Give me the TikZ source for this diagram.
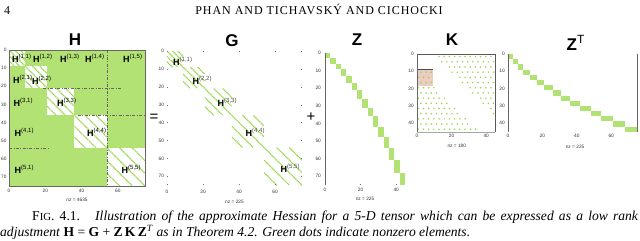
\documentclass[tikz,border=0pt]{standalone}
\usepackage{fontspec}
\setmainfont{Liberation Serif}
\setsansfont{Liberation Sans}
\newfontfamily\headfont[LetterSpace=8]{Liberation Serif}
\definecolor{spyg}{RGB}{178,226,116}
\definecolor{spyd}{RGB}{150,214,72}
\definecolor{pinkk}{RGB}{234,204,194}
\begin{document}
\begin{tikzpicture}[x=1pt,y=-1pt,
  titlef/.style={font=\sffamily\bfseries\fontsize{17}{17}\selectfont,inner sep=0},
  ticklab/.style={font=\sffamily\fontsize{4.8}{5}\selectfont,inner sep=0,text=black!80},
  hlab/.style={font=\sffamily\bfseries\fontsize{9}{9}\selectfont,inner sep=0,anchor=base west},
  glab/.style={hlab},
  stripe/.style={draw=spyd,line width=1.2pt,dash pattern=on 1.1pt off 0.6pt},
  ddline/.style={draw=black!60,line width=0.6pt,dash pattern=on 3pt off 1.5pt on 0.8pt off 1.5pt},
  axline/.style={draw=black!60,line width=0.5pt},
  tickm/.style={draw=black!55,line width=0.4pt},
  opsym/.style={font=\sffamily\fontsize{15}{15}\selectfont,inner sep=0,text height=6pt,text depth=0pt}]
\useasboundingbox (0,0) rectangle (640,241);

% running head
\node[font=\fontsize{12}{14}\selectfont,anchor=base west,inner sep=0] (pnum) at (4,14) {4};
\node[font=\headfont\fontsize{12}{14}\selectfont,anchor=base,inner sep=0] (runhead) at (319,14) {PHAN AND TICHAVSKÝ AND CICHOCKI};

% titles
\node[titlef,anchor=base] (tH) at (75,45) {H};
\node[titlef,anchor=base] (tG) at (232,46.5) {G};
\node[titlef,anchor=base] (tZ) at (357,45) {Z};
\node[titlef,anchor=base] (tK) at (452,45) {K};
\node[titlef,anchor=base west] (tZT) at (566.5,50) {Z\textsuperscript{\mdseries T}};

% operators
\node[opsym,anchor=base] (eq) at (154,121) {=};
\node[opsym,anchor=base] (plus) at (311,121) {+};

% ---------------- H ----------------
\begin{scope}[shift={(9,50)},x=1.8133pt,y=-1.8133pt]
  \fill[spyg] (0,0) rectangle (75,75);
  \foreach \o/\s/\I in {0/9/3,9/12/4,21/15/5,36/18/6,54/21/7}{
    \fill[white] (\o,\o) rectangle ++(\s,\s);
    \begin{scope}
      \clip (\o,\o) rectangle ++(\s,\s);
      \draw[stripe] (\o,\o) -- (\o+\s,\o+\s);
      \draw[stripe] (\o+\I,\o) -- (\o+\s,\o+\s-\I);
      \draw[stripe] (\o+2*\I,\o) -- (\o+\s,\o+\s-2*\I);
      \draw[stripe] (\o,\o+\I) -- (\o+\s-\I,\o+\s);
      \draw[stripe] (\o,\o+2*\I) -- (\o+\s-2*\I,\o+\s);
    \end{scope}
  }
  \draw[axline] (0,0) rectangle (75,75);
  \draw[ddline] (54,0) -- (54,75);
  \draw[ddline] (19,21) -- (62,21);
  \draw[ddline] (38,36) -- (75,36);
  \draw[ddline] (0,54) -- (22.5,54);
  \foreach \v in {0,10,...,70} \node[ticklab,anchor=east] (hy\v) at (-1.3,\v) {\v};
  \foreach \v in {0,20,40,60} \node[ticklab,anchor=north] (hx\v) at (\v,76.6) {\v};
  \node[ticklab] (hnz) at (37.5,82.7) {nz = 4635};
\end{scope}
\node[hlab] (h11) at (12,62) {H\textsuperscript{\mdseries(1,1)}};
\node[hlab] (h12) at (33,62) {H\textsuperscript{\mdseries(1,2)}};
\node[hlab] (h13) at (60,62) {H\textsuperscript{\mdseries(1,3)}};
\node[hlab] (h14) at (85,62) {H\textsuperscript{\mdseries(1,4)}};
\node[hlab] (h15) at (123,62) {H\textsuperscript{\mdseries(1,5)}};
\node[hlab] (h21) at (13,83.5) {H\textsuperscript{\mdseries(2,1)}};
\node[hlab] (h22) at (32,84.5) {H\textsuperscript{\mdseries(2,2)}};
\node[hlab] (h31) at (13.5,106.5) {H\textsuperscript{\mdseries(3,1)}};
\node[hlab] (h33) at (57,106.5) {H\textsuperscript{\mdseries(3,3)}};
\node[hlab] (h41) at (14.5,136.5) {H\textsuperscript{\mdseries(4,1)}};
\node[hlab] (h44) at (87,136) {H\textsuperscript{\mdseries(4,4)}};
\node[hlab] (h51) at (14.5,173) {H\textsuperscript{\mdseries(5,1)}};
\node[hlab] (h55) at (121.5,173) {H\textsuperscript{\mdseries(5,5)}};

% ---------------- G ----------------
\begin{scope}[shift={(167,51)},x=1.8pt,y=-1.79pt]
  \foreach \o/\s/\I in {0/9/3,9/12/4,21/15/5,36/18/6,54/21/7}{
    \begin{scope}
      \clip (\o,\o) rectangle ++(\s,\s);
      \draw[stripe] (\o,\o) -- (\o+\s,\o+\s);
      \draw[stripe] (\o+\I,\o) -- (\o+\s,\o+\s-\I);
      \draw[stripe] (\o+2*\I,\o) -- (\o+\s,\o+\s-2*\I);
      \draw[stripe] (\o,\o+\I) -- (\o+\s-\I,\o+\s);
      \draw[stripe] (\o,\o+2*\I) -- (\o+\s-2*\I,\o+\s);
    \end{scope}
  }
  \foreach \v in {0,10,...,70} {\draw[tickm] (0,\v) -- (0.8,\v); \draw[tickm] (75,\v) -- (74.2,\v);}
  \foreach \v in {0,20,40,60} {\draw[tickm] (\v,75) -- (\v,74.2); \draw[tickm] (\v,0) -- (\v,0.8);}
  \foreach \v in {0,10,...,70} \node[ticklab,anchor=east] (gy\v) at (-1.6,\v) {\v};
  \foreach \v in {0,20,40,60} \node[ticklab,anchor=north] (gx\v) at (\v,77.6) {\v};
  \node[ticklab] (gnz) at (37.5,84.3) {nz = 225};
\end{scope}
\node[glab] (g11) at (173,65.5) {H\textsuperscript{\mdseries\color{black!70}(1,1)}};
\node[glab] (g22) at (192.5,84.5) {H\textsuperscript{\mdseries\color{black!70}(2,2)}};
\node[glab] (g33) at (217.5,106.5) {H\textsuperscript{\mdseries\color{black!70}(3,3)}};
\node[glab] (g44) at (245.5,136.5) {H\textsuperscript{\mdseries\color{black!70}(4,4)}};
\node[glab] (g55) at (280.5,172.5) {H\textsuperscript{\mdseries\color{black!70}(5,5)}};

% ---------------- Z ----------------
\begin{scope}[shift={(325,53)},x=1.78pt,y=-1.76pt]
  \foreach \k/\rs/\h in {0/0/3,1/3/3,2/6/3,3/9/4,4/13/4,5/17/4,6/21/5,7/26/5,8/31/5,9/36/6,10/42/6,11/48/6,12/54/7,13/61/7,14/68/7}
    \fill[spyg] (3*\k,\rs) rectangle ++(3,\h);
  \draw[axline,line width=0.8pt] (0,0) -- (0,75);
  \foreach \v in {0,20,40} {\draw[tickm] (\v,75) -- (\v,74.2);}
  \foreach \v in {0,10,...,70} \node[ticklab,anchor=east] (zy\v) at (-2.2,\v) {\v};
  \foreach \v in {0,20,40} \node[ticklab,anchor=north] (zx\v) at (\v,76.6) {\v};
  \node[ticklab] (znz) at (22.5,83) {nz = 225};
\end{scope}

% ---------------- K ----------------
\begin{scope}[shift={(417,54)},x=1.73pt,y=-1.73pt]
  \fill[pinkk] (0,9) rectangle (9,18.5);
  \foreach \i in {0,...,14}{
    \foreach \j in {0,...,15}{
      \pgfmathsetmacro\rr{1.5+3*\i}
      \pgfmathsetmacro\cc{0.75+3*\j+1.5*mod(\i,2)}
      \pgfmathtruncatemacro\ok{((\cc<45) && ((abs(\rr-\cc)>=8.5) || ((\rr>9) && (\rr<18.5) && (\cc<9))))}
      \ifnum\ok=1 \fill[spyd] (\cc,\rr) circle[radius=0.5]; \fi
    }
  }
  \draw[black!70,line width=0.6pt] (0,18.5) -- (0,9) -- (9,9);
  \draw[axline] (0,45) -- (0,0);
  \draw[black!65,line width=0.7pt] (0,0) -- (45,0) -- (45,45);
  \draw[axline,draw=black!35] (0,45) -- (45,45);
  \foreach \v in {0,10,...,40} \node[ticklab,anchor=east] (ky\v) at (-1.8,\v) {\v};
  \foreach \v in {0,20,40} \node[ticklab,anchor=north] (kx\v) at (\v,46.4) {\v};
  \node[ticklab] (knz) at (23,53.3) {nz = 180};
\end{scope}

% ---------------- Z^T ----------------
\begin{scope}[shift={(508,54)},x=1.72pt,y=-1.73pt]
  \foreach \k/\rs/\h in {0/0/3,1/3/3,2/6/3,3/9/4,4/13/4,5/17/4,6/21/5,7/26/5,8/31/5,9/36/6,10/42/6,11/48/6,12/54/7,13/61/7,14/68/7}
    \fill[spyg] (\rs,3*\k) rectangle ++(\h,3);
  \draw[axline,line width=0.8pt] (0,0) -- (0,45);
  \draw[axline,line width=0.8pt] (75,0) -- (75,45);
  \foreach \v in {0,10,...,40} \node[ticklab,anchor=east] (ty\v) at (-1.8,\v) {\v};
  \foreach \v in {0,20,40,60} \node[ticklab,anchor=north] (tx\v) at (\v,46.4) {\v};
  \node[ticklab] (tnz) at (39,53.8) {nz = 225};
\end{scope}

% caption
\node[font=\fontsize{13.6}{16}\selectfont,anchor=base west,inner sep=0] (cap1) at (32,220.5)
  {\makebox[606pt][s]{F{\fontsize{10.8}{12}\selectfont IG}. 4.1. \ \textit{Illustration of the approximate Hessian for a 5-D tensor which can be expressed as a low rank}}};
\node[font=\fontsize{13.6}{16}\selectfont,anchor=base west,inner sep=0] (cap2) at (0,236.5)
  {\textit{adjustment} \textbf{H} = \textbf{G} + \textbf{Z}\,\textbf{K}\,\textbf{Z}\textsuperscript{\textit{T}} \textit{as in Theorem 4.2. Green dots indicate nonzero elements.}};
\end{tikzpicture}
\end{document}
